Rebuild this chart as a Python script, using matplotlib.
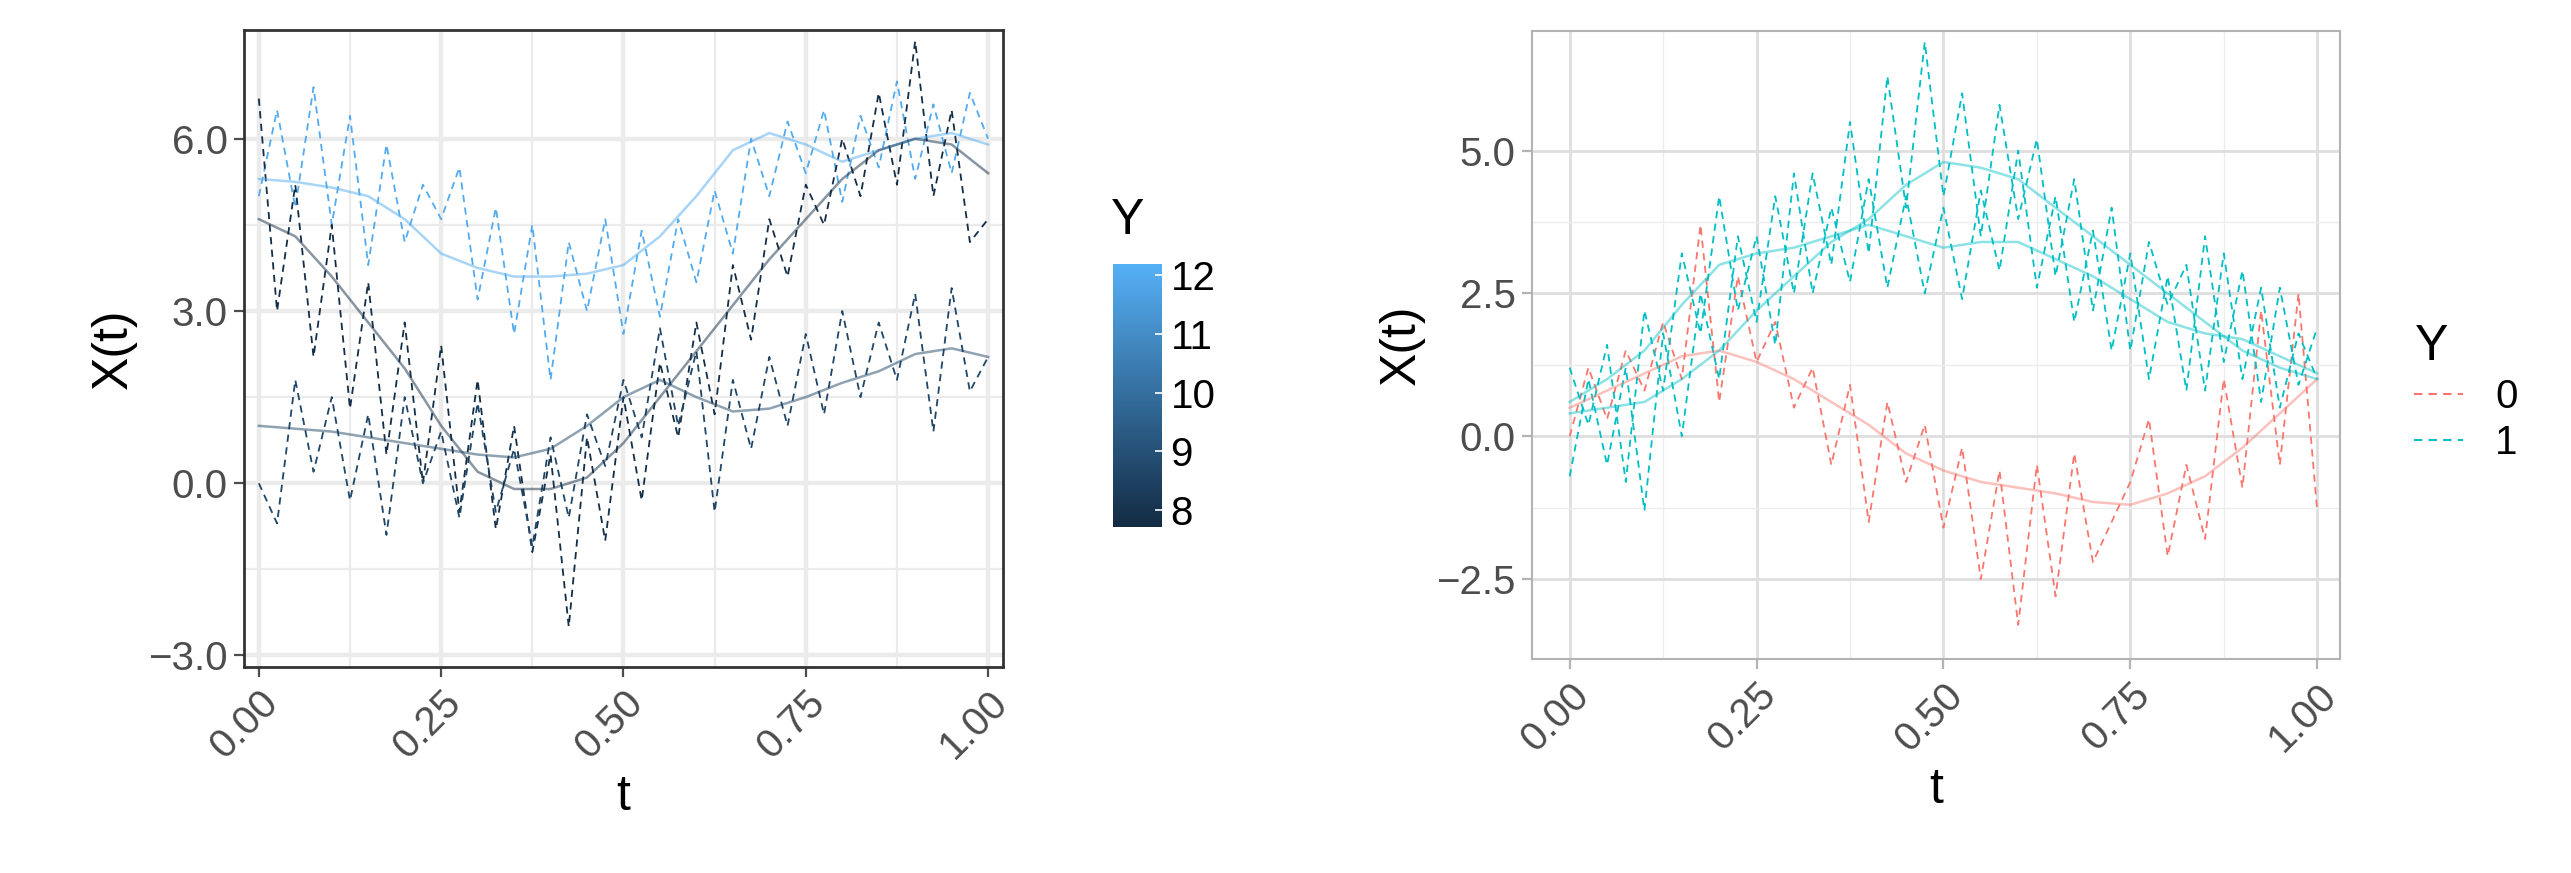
import numpy as np
import matplotlib
matplotlib.use("Agg")
import matplotlib.pyplot as plt
from matplotlib.colors import LinearSegmentedColormap, Normalize
from matplotlib.lines import Line2D

plt.rcParams['font.family'] = ['Liberation Sans', 'DejaVu Sans']

t = np.linspace(0, 1, 41)
# Left panel noisy curves
left_A = [5.0,6.5,4.8,6.9,4.5,6.4,3.8,5.9,4.2,5.2,4.6,5.5,3.2,4.8,2.6,4.5,1.8,4.2,3.0,4.6,2.6,4.4,2.9,4.6,3.5,5.1,4.0,6.0,5.0,6.3,5.4,6.5,4.9,6.4,5.5,7.0,5.3,6.6,5.4,6.8,6.0]
left_B = [6.7,3.0,5.2,2.2,4.5,1.3,3.5,0.5,2.8,0.0,2.4,-0.5,1.8,-0.8,1.0,-1.2,0.5,-2.5,0.8,-1.0,1.5,-0.3,2.1,0.8,2.8,1.2,3.8,2.5,4.6,3.6,5.2,4.5,6.0,5.0,6.8,5.2,7.7,5.0,6.5,4.2,4.6]
left_C = [0.0,-0.7,1.8,0.2,1.5,-0.3,1.2,-0.9,1.5,0.0,0.9,-0.6,1.4,-0.5,0.6,-1.1,0.8,-0.6,1.2,0.3,1.8,0.8,2.7,1.0,2.3,-0.5,1.8,0.6,2.2,1.0,2.6,1.2,3.0,1.5,2.8,1.8,3.3,0.9,3.4,1.6,2.2]
left_Y = [12.0, 7.8, 8.6]
ts = np.linspace(0, 1, 21)
smooth_A = [5.3,5.25,5.15,5.0,4.6,4.0,3.75,3.6,3.6,3.65,3.8,4.3,5.0,5.8,6.1,5.9,5.6,5.8,6.0,6.1,5.9]
smooth_B = [4.6,4.3,3.6,2.8,2.0,1.0,0.2,-0.1,-0.1,0.1,0.7,1.5,2.3,3.1,3.9,4.6,5.3,5.8,6.0,5.9,5.4]
smooth_C = [1.0,0.95,0.9,0.8,0.7,0.6,0.5,0.45,0.6,1.0,1.5,1.8,1.5,1.25,1.3,1.5,1.75,1.95,2.25,2.35,2.2]

# Right panel
right_R = [0.0,1.2,0.3,1.5,0.8,2.0,1.0,3.7,0.6,2.8,1.3,2.0,0.5,1.2,-0.5,0.9,-1.5,0.6,-0.8,0.2,-1.6,-0.2,-2.5,-0.6,-3.3,-0.5,-2.8,-0.3,-2.2,-1.5,-0.8,0.3,-2.1,-0.5,-1.8,1.0,-0.9,2.2,-0.5,2.5,-1.3]
right_C1 = [-0.7,1.0,-0.5,1.2,-1.3,1.8,0.0,2.5,1.0,3.5,2.0,4.2,2.5,4.6,3.0,5.5,3.2,6.3,4.0,6.9,4.2,6.0,3.5,5.8,3.8,5.2,2.8,4.5,2.2,4.0,1.5,3.4,2.3,3.0,0.8,3.2,1.0,2.6,0.5,1.8,1.0]
right_C2 = [1.2,0.2,1.6,-0.8,2.2,0.8,3.2,1.8,4.2,2.2,3.5,1.6,4.6,2.5,4.0,2.7,4.5,2.6,4.2,2.5,4.0,2.4,4.3,2.9,5.0,2.6,4.2,2.0,3.6,1.5,3.2,1.0,2.8,0.8,3.5,1.3,2.9,0.6,2.6,0.9,1.9]
smooth_R = [0.5,0.8,1.1,1.4,1.5,1.3,1.0,0.6,0.2,-0.3,-0.6,-0.8,-0.9,-1.0,-1.15,-1.2,-1.0,-0.7,-0.2,0.4,1.0]
smooth_C1 = [0.4,0.5,0.6,1.0,1.5,2.2,2.8,3.4,3.8,4.4,4.8,4.7,4.5,4.0,3.5,3.0,2.5,2.0,1.5,1.2,1.0]
smooth_C2 = [0.6,1.0,1.5,2.3,3.0,3.2,3.3,3.5,3.7,3.5,3.3,3.4,3.4,3.1,2.8,2.4,2.0,1.8,1.7,1.4,1.1]

cmap = LinearSegmentedColormap.from_list("gg", ["#132B43", "#56B1F7"])
norm = Normalize(7.7, 12.2)
red, cyan = "#F8766D", "#00BFC4"

fig = plt.figure(figsize=(25.71, 8.73), dpi=100)
ax1 = fig.add_axes([0.095, 0.236, 0.295, 0.73])
ax2 = fig.add_axes([0.596, 0.245, 0.314, 0.72])

def style(ax, xlim, ylim, yticks, spine_col, spine_w, bw):
    ax.set_xlim(*xlim); ax.set_ylim(*ylim)
    ax.set_xticks([0, .25, .5, .75, 1])
    ax.set_xticklabels(["0.00", "0.25", "0.50", "0.75", "1.00"], rotation=45, ha="right", rotation_mode="anchor")
    ax.set_xticks([.125, .375, .625, .875], minor=True)
    ax.set_yticks(yticks)
    ax.set_yticklabels([f"{v:.1f}".replace("-", "\u2212") for v in yticks])
    ax.set_yticks([(a + b) / 2 for a, b in zip(yticks[:-1], yticks[1:])], minor=True)
    if bw:
        ax.grid(True, which="major", color="#EBEBEB", lw=3.2)
        ax.grid(True, which="minor", color="#EBEBEB", lw=1.6)
    else:
        ax.grid(True, which="major", color="#DEDEDE", lw=2.0)
        ax.grid(True, which="minor", color="#EDEDED", lw=1.0)
    ax.set_axisbelow(True)
    for s in ax.spines.values():
        s.set_color(spine_col); s.set_linewidth(spine_w)
    ax.tick_params(axis="both", which="major", labelsize=29, colors="#4D4D4D" if bw else "#B3B3B3", length=7, width=1.6, pad=5)
    ax.tick_params(axis="both", which="minor", length=0)
    for lab in ax.get_xticklabels() + ax.get_yticklabels():
        lab.set_color("#4D4D4D")
    ax.set_xlabel("t", fontsize=36, labelpad=6)
    ax.set_ylabel("X(t)", fontsize=36, labelpad=8)

for y, yv in zip([left_A, left_B, left_C], left_Y):
    ax1.plot(t, y, ls=(0, (4, 3)), lw=1.3, color=cmap(norm(yv)))
for y, yv in zip([smooth_A, smooth_B, smooth_C], left_Y):
    ax1.plot(ts, y, lw=1.8, color=cmap(norm(yv)), alpha=0.5)
style(ax1, (-0.02, 1.02), (-3.2, 7.9), [-3.0, 0.0, 3.0, 6.0], "#333333", 2.0, True)

for y, c in [(right_R, red), (right_C1, cyan), (right_C2, cyan)]:
    ax2.plot(t, y, ls=(0, (4, 3)), lw=1.3, color=c)
for y, c in [(smooth_R, red), (smooth_C1, cyan), (smooth_C2, cyan)]:
    ax2.plot(ts, y, lw=1.8, color=c, alpha=0.45)
style(ax2, (-0.05, 1.03), (-3.9, 7.1), [-2.5, 0.0, 2.5, 5.0], "#B3B3B3", 1.5, False)

cax = fig.add_axes([0.433, 0.396, 0.019, 0.302])
grad = np.linspace(7.7, 12.2, 256).reshape(-1, 1)
cax.imshow(grad, aspect="auto", cmap=cmap, norm=norm, origin="lower", extent=[0, 1, 7.7, 12.2])
cax.set_xticks([]); cax.yaxis.tick_right()
cax.set_yticks([8, 9, 10, 11, 12])
cax.tick_params(axis="y", labelsize=29, length=5, width=1.2, colors="white", labelcolor="black", direction="in", pad=6)
for s in cax.spines.values(): s.set_visible(False)
fig.text(0.432, 0.72, "Y", fontsize=36, ha="left", va="bottom")

handles = [Line2D([], [], color=red, ls=(0, (4, 3)), lw=1.5), Line2D([], [], color=cyan, ls=(0, (4, 3)), lw=1.5)]
leg = fig.legend(handles, ["0", "1"], loc="upper left", bbox_to_anchor=(0.925, 0.67), frameon=False,
                 fontsize=29, title="Y", title_fontsize=36, handlelength=1.2, alignment="left", labelspacing=0.2)
fig.savefig("out.png", dpi=100)
